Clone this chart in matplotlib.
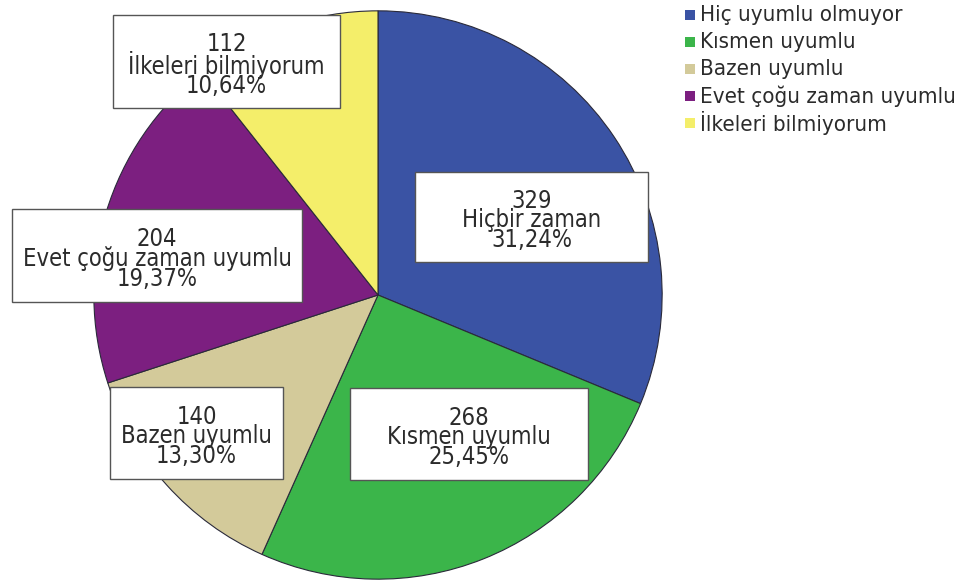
import matplotlib
matplotlib.use("Agg")
import matplotlib.pyplot as plt
from matplotlib.patches import Rectangle
from matplotlib import font_manager
from matplotlib.font_manager import FontProperties

categories = ["Hiç uyumlu olmuyor", "Kısmen uyumlu", "Bazen uyumlu",
              "Evet çoğu zaman uyumlu", "İlkeleri bilmiyorum"]
counts = [329, 268, 140, 204, 112]
box_names = ["Hiçbir zaman", "Kısmen uyumlu", "Bazen uyumlu",
             "Evet çoğu zaman uyumlu", "İlkeleri bilmiyorum"]
percents = ["31,24%", "25,45%", "13,30%", "19,37%", "10,64%"]
colors = ["#3a53a4", "#3bb54a", "#d3ca9a", "#7c1f80", "#f4ee6a"]


def find_font(keys):
    for k in keys:
        for f in font_manager.fontManager.ttflist:
            if k.lower() in f.fname.lower().replace("-", "").replace("_", ""):
                return f.fname
    return None

cond = find_font(["LiberationSansNarrowRegular", "DejaVuSansCondensed.ttf"])
fp_lab = FontProperties(fname=cond, size=17) if cond else FontProperties(family="DejaVu Sans", size=15)
fp_leg = FontProperties(fname=cond, size=16) if cond else FontProperties(family="DejaVu Sans", size=13)

W, H = 971, 582
fig = plt.figure(figsize=(W / 100, H / 100), dpi=100)

cx, cy, R = 378, 295, 287
ax = fig.add_axes([(cx - R) / W, (H - cy - R) / H, 2 * R / W, 2 * R / H])
ax.pie(counts, colors=colors, startangle=90, counterclock=False, radius=1,
       wedgeprops=dict(edgecolor="#2a2a3a", linewidth=0.8))
ax.set_xlim(-1.01, 1.01)
ax.set_ylim(-1.01, 1.01)
ax.set_aspect("equal")
ax.axis("off")

# label boxes in pixel layout (left, top, right, bottom)
boxes = [(415, 172, 648, 262), (350, 388, 588, 480), (110, 387, 283, 479),
         (12, 209, 302, 302), (113, 15, 340, 108)]
for (l, t, r, b), c, n, p in zip(boxes, counts, box_names, percents):
    fig.patches.append(Rectangle((l / W, 1 - b / H), (r - l) / W, (b - t) / H,
                                 transform=fig.transFigure, facecolor="white",
                                 edgecolor="#555555", linewidth=1.0, zorder=5))
    fig.text((l + r) / 2 / W, 1 - (t + b) / 2 / H - 0.006, f"{c}\n{n}\n{p}",
             ha="center", va="center", fontproperties=fp_lab,
             color="#2b2b2b", linespacing=0.76, zorder=6)

# legend
y0 = 15
for i, (cat, col) in enumerate(zip(categories, colors)):
    y = y0 + i * 27
    fig.patches.append(Rectangle((685 / W, 1 - (y + 5) / H), 10 / W, 10 / H,
                                 transform=fig.transFigure, facecolor=col,
                                 edgecolor="none"))
    fig.text(700 / W, 1 - y / H, cat, ha="left", va="center",
             fontproperties=fp_leg, color="#2b2b2b")

fig.savefig("out.png", dpi=100)
